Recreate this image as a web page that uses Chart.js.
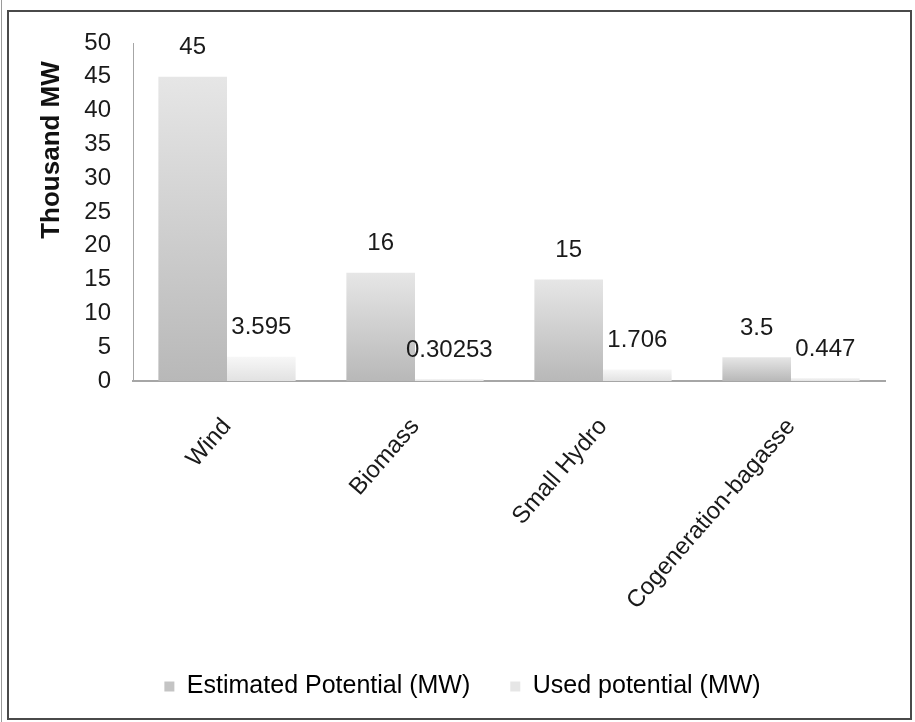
<!DOCTYPE html>
<html>
<head>
<meta charset="utf-8">
<script src="https://cdn.jsdelivr.net/npm/chart.js@4"></script>
<style>
  body { margin: 0; background: #fff; }
  #wrap { position: relative; width: 915px; height: 722px; overflow: hidden; }
  #frame { position: absolute; left: 7px; top: 10px; width: 901px; height: 706px; border: 2px solid #4a4a4a; }
  #edge { position: absolute; left: 1px; top: 0; width: 1px; height: 722px; background: #9a9a9a; }
  canvas { position: absolute; left: 0; top: 0; }
</style>
</head>
<body>
<div id="wrap">
  <div id="edge"></div>
  <div id="frame"></div>
  <canvas id="chart" width="915" height="722"></canvas>
</div>
<script>
const categories = ["Wind", "Biomass", "Small Hydro", "Cogeneration-bagasse"];
const estimated = [45, 16, 15, 3.5];
const used = [3.595, 0.30253, 1.706, 0.447];
const seriesNames = ["Estimated Potential (MW)", "Used potential (MW)"];
const yTicks = [0, 5, 10, 15, 20, 25, 30, 35, 40, 45, 50];
const yTitle = "Thousand MW";

const FONT = "'Liberation Sans', Arial, sans-serif";

function barFill(light, dark) {
  return (c) => {
    const chart = c.chart;
    if (c.type !== "data" || !chart.chartArea) return dark;
    const y = chart.scales.y;
    const top = y.getPixelForValue(c.raw);
    const base = y.getPixelForValue(0);
    const g = chart.ctx.createLinearGradient(0, top, 0, base);
    g.addColorStop(0, light);
    g.addColorStop(1, dark);
    return g;
  };
}

// value labels above each bar + the y title (sits high, not centred)
const extras = {
  id: "extras",
  afterDatasetsDraw(chart) {
    const ctx = chart.ctx;
    ctx.save();
    ctx.font = "24px " + FONT;
    ctx.fillStyle = "#1a1a1a";
    ctx.textAlign = "center";
    ctx.textBaseline = "middle";
    chart.data.datasets.forEach((ds, i) => {
      chart.getDatasetMeta(i).data.forEach((bar, j) => {
        ctx.fillText(String(ds.data[j]), bar.x, bar.y - 29);
      });
    });
    ctx.translate(52, 150);
    ctx.rotate(-Math.PI / 2);
    ctx.font = "bold 26px " + FONT;
    ctx.fillStyle = "#111";
    ctx.fillText(yTitle, 0, 0);
    ctx.restore();
  }
};

new Chart(document.getElementById("chart"), {
  type: "bar",
  data: {
    labels: categories,
    datasets: [
      {
        label: seriesNames[0],
        data: estimated,
        backgroundColor: barFill("#e6e6e6", "#b8b8b8"),
        categoryPercentage: 0.73,
        barPercentage: 1
      },
      {
        label: seriesNames[1],
        data: used,
        backgroundColor: barFill("#f7f7f7", "#e2e2e2"),
        categoryPercentage: 0.73,
        barPercentage: 1
      }
    ]
  },
  options: {
    responsive: false,
    animation: false,
    layout: { padding: { left: 40, right: 30, top: 43, bottom: 13 } },
    plugins: {
      tooltip: { enabled: false },
      legend: {
        position: "bottom",
        labels: {
          font: { family: FONT, size: 25 },
          color: "#1a1a1a",
          boxWidth: 10,
          boxHeight: 10,
          padding: 40,
          generateLabels(chart) {
            const fills = ["#c4c4c4", "#e6e6e6"];
            return chart.data.datasets.map((ds, i) => ({
              text: ds.label,
              fillStyle: fills[i],
              strokeStyle: fills[i],
              lineWidth: 0,
              datasetIndex: i
            }));
          }
        }
      }
    },
    scales: {
      x: {
        grid: { display: false },
        border: { color: "#a6a6a6", width: 2 },
        ticks: {
          font: { family: FONT, size: 24 },
          color: "#1a1a1a",
          maxRotation: 49,
          minRotation: 49,
          padding: 24
        },
        afterFit(scale) { scale.height = 253; }
      },
      y: {
        min: 0,
        max: 50,
        afterBuildTicks(scale) { scale.ticks = yTicks.map((v) => ({ value: v })); },
        grid: { display: false },
        border: { color: "#a6a6a6", width: 1 },
        ticks: {
          font: { family: FONT, size: 24 },
          color: "#1a1a1a",
          padding: 14
        },
        afterFit(scale) { scale.width = 93; }
      }
    }
  },
  plugins: [extras]
});
</script>
</body>
</html>
